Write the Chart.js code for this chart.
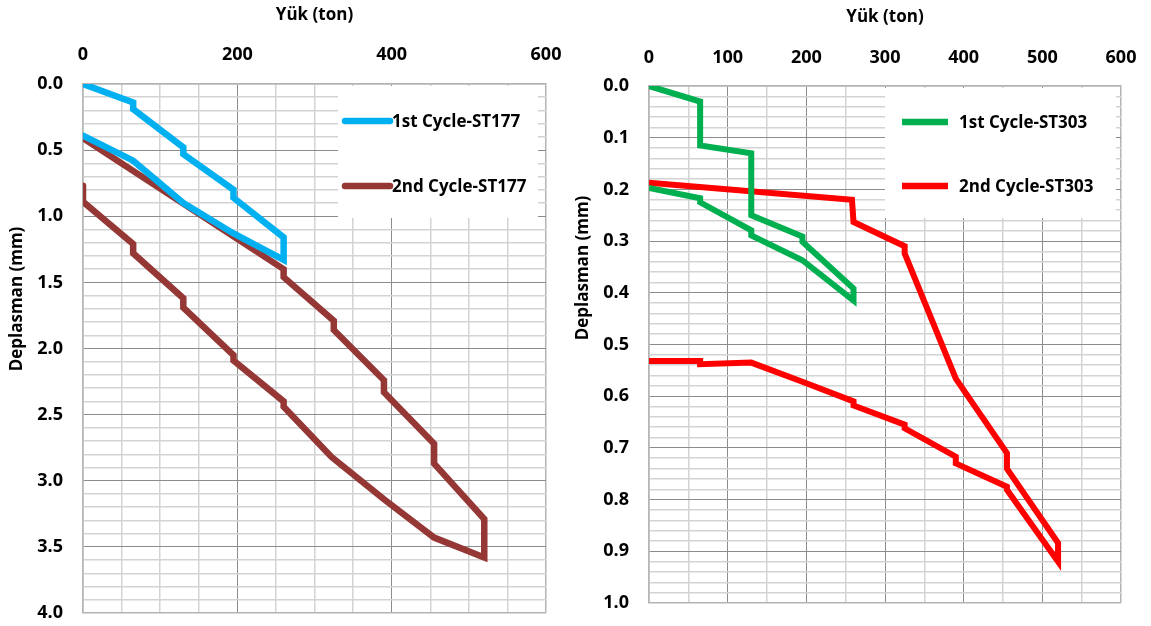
<!DOCTYPE html>
<html>
<head>
<meta charset="utf-8">
<title>Yük - Deplasman</title>
<script src="https://cdn.jsdelivr.net/npm/chart.js@4.4.1/dist/chart.umd.min.js"></script>
<style>
  html, body { margin: 0; padding: 0; background: #ffffff; }
  #wrap { position: relative; width: 1151px; height: 626px; overflow: hidden; }
  canvas { position: absolute; top: 0; }
  #st177 { left: 0; }
  #st303 { left: 570px; }
</style>
</head>
<body>
<div id="wrap">
  <canvas id="st177" width="570" height="626"></canvas>
  <canvas id="st303" width="581" height="626"></canvas>
</div>
<script>
// ---- ST177: load (ton) / settlement (mm) ----
const st177Cycle1Load = [0, 65, 65, 130, 130, 195, 195, 260, 260, 195, 130, 65, 0];
const st177Cycle1Defl = [0.00, 0.14, 0.19, 0.48, 0.53, 0.80, 0.86, 1.16, 1.33, 1.13, 0.90, 0.58, 0.39];

const st177Cycle2Load = [0, 260, 260, 325, 325, 390, 390, 455, 455, 520, 520, 455, 390, 322, 260, 260, 195, 195, 130, 130, 65, 65, 0, 0];
const st177Cycle2Defl = [0.41, 1.40, 1.46, 1.79, 1.86, 2.24, 2.33, 2.72, 2.87, 3.29, 3.58, 3.43, 3.14, 2.82, 2.44, 2.40, 2.09, 2.05, 1.69, 1.62, 1.28, 1.21, 0.89, 0.77];

// ---- ST303: load (ton) / settlement (mm) ----
const st303Cycle1Load = [0, 65, 65, 130, 130, 195, 195, 260, 260, 195, 130, 130, 65, 65, 0];
const st303Cycle1Defl = [0.000, 0.030, 0.115, 0.130, 0.250, 0.291, 0.301, 0.392, 0.415, 0.337, 0.289, 0.279, 0.225, 0.217, 0.197];

const st303Cycle2Load = [0, 258, 260, 325, 325, 390, 455, 455, 520, 520, 455, 455, 390, 390, 325, 325, 260, 260, 195, 130, 65, 65, 0];
const st303Cycle2Defl = [0.187, 0.220, 0.263, 0.310, 0.324, 0.566, 0.710, 0.740, 0.884, 0.920, 0.781, 0.775, 0.730, 0.717, 0.662, 0.655, 0.618, 0.610, 0.572, 0.535, 0.538, 0.532, 0.532];

// ---- axis tick labels ----
const st177LoadLabels = [0, 200, 400, 600];
const st177DeflLabels = [0.0, 0.5, 1.0, 1.5, 2.0, 2.5, 3.0, 3.5, 4.0];
const st303LoadLabels = [0, 100, 200, 300, 400, 500, 600];
const st303DeflLabels = [0.0, 0.1, 0.2, 0.3, 0.4, 0.5, 0.6, 0.7, 0.8, 0.9, 1.0];

const FONT = "'Open Sans', 'Noto Sans', 'DejaVu Sans', sans-serif";
Chart.defaults.color = '#000000';
Chart.defaults.font.family = FONT;

function points(xs, ys) {
  return xs.map((x, i) => ({ x: x, y: ys[i] }));
}
function evenTicks(min, max, step) {
  const n = Math.round((max - min) / step);
  const out = [];
  for (let i = 0; i <= n; i++) out.push({ value: +(min + i * step).toFixed(6) });
  return out;
}
function inList(list, v) {
  return list.some(t => Math.abs(t - v) < 1e-6);
}

// white legend panel drawn over the grid, inside the plot area
const panelLegend = {
  id: 'panelLegend',
  beforeDatasetsDraw(chart, args, o) {
    const ctx = chart.ctx;
    ctx.save();
    ctx.fillStyle = '#ffffff';
    ctx.fillRect(o.x, o.y, o.w, o.h);
    chart.data.datasets.forEach((ds, i) => {
      const y = o.rows[i];
      ctx.strokeStyle = ds.borderColor;
      ctx.lineWidth = o.sampleWidth;
      ctx.lineCap = o.cap;
      ctx.beginPath();
      ctx.moveTo(o.lineX0, y);
      ctx.lineTo(o.lineX1, y);
      ctx.stroke();
      ctx.fillStyle = '#000000';
      ctx.font = 'bold ' + o.fontSize + 'px ' + FONT;
      ctx.textAlign = 'left';
      ctx.textBaseline = 'middle';
      ctx.fillText(ds.label, o.textX, y + 1);
    });
    ctx.restore();
  }
};

// vertical axis title
const sideTitle = {
  id: 'sideTitle',
  afterDraw(chart, args, o) {
    const ctx = chart.ctx;
    ctx.save();
    ctx.translate(o.x, o.y);
    ctx.rotate(-Math.PI / 2);
    ctx.fillStyle = '#000000';
    ctx.font = 'bold ' + o.fontSize + 'px ' + FONT;
    ctx.textAlign = 'center';
    ctx.textBaseline = 'middle';
    ctx.fillText(o.text, 0, 0);
    ctx.restore();
  }
};

function buildChart(canvasId, cfg) {
  const g = cfg.geom;
  const edge = '#b4b4b4';
  const gridColor = (isMajor, lo, hi) => ctx => {
    const v = ctx.tick ? ctx.tick.value : 0;
    if (Math.abs(v - lo) < 1e-6 || Math.abs(v - hi) < 1e-6) return edge;
    return isMajor(v) ? '#8c8c8c' : '#d3d3d3';
  };
  const gridWidth = (isMajor, lo, hi) => ctx => {
    const v = ctx.tick ? ctx.tick.value : 0;
    if (Math.abs(v - lo) < 1e-6 || Math.abs(v - hi) < 1e-6) return 1.5;
    return isMajor(v) ? 1 : 1.5;
  };
  const xMajor = v => Math.abs(v / cfg.xMajorStep - Math.round(v / cfg.xMajorStep)) < 1e-6;
  const yMajor = v => Math.abs(v / cfg.yMajorStep - Math.round(v / cfg.yMajorStep)) < 1e-6;

  return new Chart(document.getElementById(canvasId), {
    type: 'scatter',
    data: {
      datasets: cfg.series.map(s => ({
        label: s.label,
        data: points(s.load, s.defl),
        borderColor: s.color,
        backgroundColor: s.color,
        borderWidth: cfg.lineWidth,
        showLine: true,
        pointRadius: 0,
        pointHoverRadius: 0,
        tension: 0,
        borderCapStyle: cfg.cap,
        borderJoinStyle: 'miter'
      }))
    },
    options: {
      responsive: false,
      animation: false,
      devicePixelRatio: 1,
      layout: { padding: { left: 0, top: g.padTop, right: g.padRight, bottom: g.padBottom } },
      plugins: {
        legend: { display: false },
        tooltip: { enabled: false },
        panelLegend: cfg.legend,
        sideTitle: cfg.sideTitle
      },
      scales: {
        x: {
          type: 'linear',
          position: 'top',
          min: 0,
          max: 600,
          afterBuildTicks: s => { s.ticks = evenTicks(0, 600, cfg.xMinorStep); },
          afterFit: s => {
            s.height = g.top - g.padTop;
            s.paddingLeft = 0;
            s.paddingRight = 0;
          },
          ticks: {
            autoSkip: false,
            maxRotation: 0,
            padding: g.xTickPad,
            color: '#000000',
            font: { family: FONT, size: 18, weight: 'bold' },
            callback: v => inList(cfg.xLabels, v) ? String(Math.round(v)) : ''
          },
          grid: {
            drawTicks: false,
            color: gridColor(xMajor, 0, 600),
            lineWidth: gridWidth(xMajor, 0, 600)
          },
          border: { display: true, color: edge, width: 1.5 },
          title: {
            display: true,
            text: 'Yük (ton)',
            color: '#000000',
            padding: 0,
            font: { family: FONT, size: 17, weight: 'bold' }
          }
        },
        y: {
          type: 'linear',
          reverse: true,
          min: 0,
          max: cfg.yMax,
          afterBuildTicks: s => { s.ticks = evenTicks(0, cfg.yMax, cfg.yMinorStep); },
          afterFit: s => {
            s.width = g.left;
            s.paddingTop = 0;
            s.paddingBottom = 0;
          },
          ticks: {
            autoSkip: false,
            padding: 20,
            color: '#000000',
            font: { family: FONT, size: 18, weight: 'bold' },
            callback: v => inList(cfg.yLabels, v) ? Number(v).toFixed(1) : ''
          },
          grid: {
            drawTicks: false,
            color: gridColor(yMajor, 0, cfg.yMax),
            lineWidth: gridWidth(yMajor, 0, cfg.yMax)
          },
          border: { display: true, color: edge, width: 1.5 },
          title: { display: false }
        }
      }
    },
    plugins: [panelLegend, sideTitle]
  });
}

buildChart('st177', {
  series: [
    { label: '1st Cycle-ST177', load: st177Cycle1Load, defl: st177Cycle1Defl, color: '#00b0f0' },
    { label: '2nd Cycle-ST177', load: st177Cycle2Load, defl: st177Cycle2Defl, color: '#953735' }
  ],
  xLabels: st177LoadLabels,
  yLabels: st177DeflLabels,
  xMinorStep: 50, xMajorStep: 200,
  yMinorStep: 0.1, yMajorStep: 0.5, yMax: 4,
  lineWidth: 6.5,
  cap: 'round',
  geom: { left: 83, top: 84, padTop: 5, padRight: 24, padBottom: 13, xTickPad: 18 },
  legend: {
    x: 338, y: 86, w: 200, h: 132,
    rows: [121, 186],
    lineX0: 345, lineX1: 390, textX: 392,
    sampleWidth: 6.5, cap: 'round', fontSize: 17
  },
  sideTitle: { text: 'Deplasman (mm)', x: 17, y: 299, fontSize: 17 }
});

buildChart('st303', {
  series: [
    { label: '1st Cycle-ST303', load: st303Cycle1Load, defl: st303Cycle1Defl, color: '#00b050' },
    { label: '2nd Cycle-ST303', load: st303Cycle2Load, defl: st303Cycle2Defl, color: '#ff0000' }
  ],
  xLabels: st303LoadLabels,
  yLabels: st303DeflLabels,
  xMinorStep: 50, xMajorStep: 100,
  yMinorStep: 0.02, yMajorStep: 0.1, yMax: 1,
  lineWidth: 6,
  cap: 'butt',
  geom: { left: 79, top: 86, padTop: 7, padRight: 30, padBottom: 23, xTickPad: 17 },
  legend: {
    x: 315, y: 88, w: 231, h: 130,
    rows: [122, 186],
    lineX0: 332, lineX1: 378, textX: 389,
    sampleWidth: 6.5, cap: 'butt', fontSize: 17
  },
  sideTitle: { text: 'Deplasman (mm)', x: 13, y: 268, fontSize: 17 }
});
</script>
</body>
</html>
